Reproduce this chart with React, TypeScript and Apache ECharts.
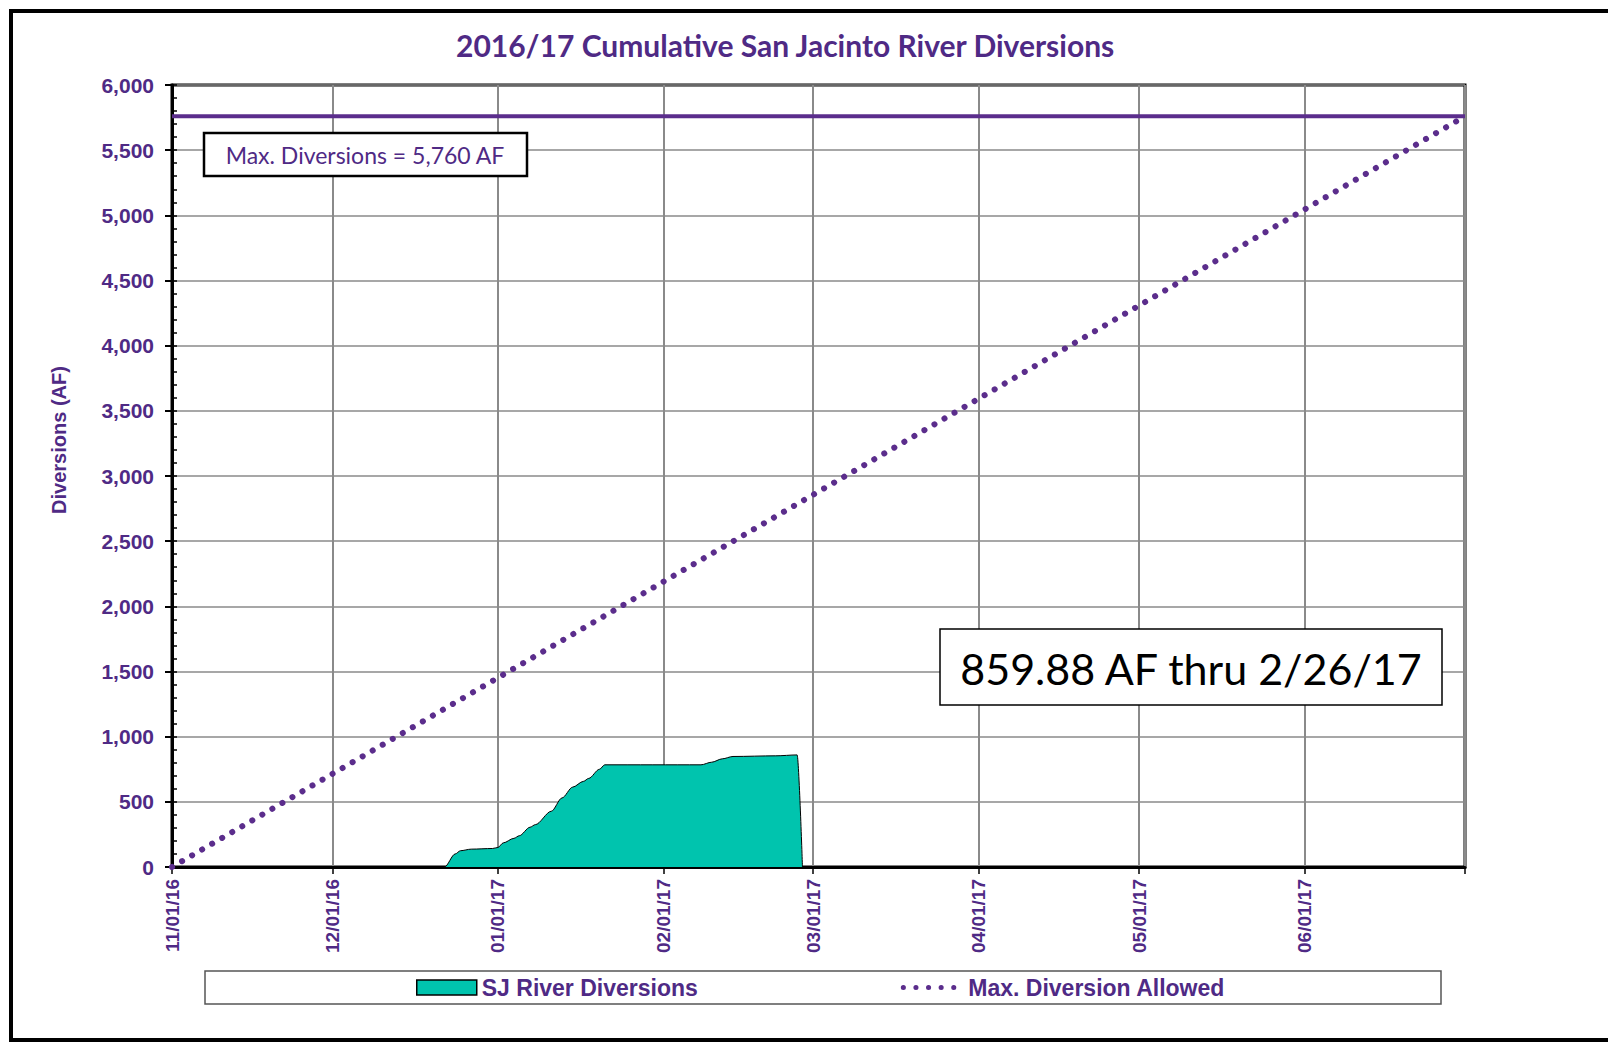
import React, { useEffect, useRef } from "react";
import * as echarts from "echarts";

// ---- Data ----
const TITLE = "2016/17 Cumulative San Jacinto River Diversions";
const Y_NAME = "Diversions (AF)";
const X_MIN = "2016-11-01";
const X_MAX = "2017-07-01";
const Y_MIN = 0;
const Y_MAX = 6000;
const Y_INTERVAL = 500;
const Y_MINOR_INTERVAL = 100;
const MAX_DIVERSION = 5760;

const DIV_DATES = [
  "2016-12-21", "2016-12-22", "2016-12-24", "2016-12-25", "2016-12-27", "2016-12-31",
  "2017-01-01", "2017-01-02", "2017-01-04", "2017-01-05", "2017-01-07", "2017-01-08",
  "2017-01-11", "2017-01-13", "2017-01-15", "2017-01-17", "2017-01-18", "2017-01-20",
  "2017-01-21", "2017-02-08", "2017-02-10", "2017-02-12", "2017-02-14", "2017-02-22",
  "2017-02-26", "2017-02-27",
];
const DIV_VALUES = [
  0, 0, 100, 125, 137, 142,
  150, 185, 220, 240, 305, 325,
  428, 530, 613, 657, 680, 750,
  784, 784, 804, 830, 848, 853,
  859.88, 0,
];

const ALLOWED_DATES = ["2016-11-01", "2017-07-01"];
const ALLOWED_VALUES = [0, 5760];

const MAXLINE_DATES = ["2016-11-01", "2017-07-01"];
const MAXLINE_VALUES = [MAX_DIVERSION, MAX_DIVERSION];

const SERIES_NAMES = ["SJ River Diversions", "Max. Diversion Allowed"];
const MAX_LABEL = "Max. Diversions = 5,760 AF";
const TOTAL_LABEL = "859.88 AF thru 2/26/17";

// ---- Styles ----
const PURPLE = "#4F2A85";
const PURPLE_LINE = "#5B2D8C";
const TEAL = "#00C4AE";
const BOLD_FONT = "Liberation Sans";
const TEXT_FONT = "Lato";

function parseLocal(s: string) {
  const [y, m, d] = s.split("-").map(Number);
  return new Date(y, m - 1, d).getTime();
}

function fmtDate(v: number) {
  const d = new Date(v);
  const mm = String(d.getMonth() + 1).padStart(2, "0");
  const dd = String(d.getDate()).padStart(2, "0");
  const yy = String(d.getFullYear() % 100).padStart(2, "0");
  return `${mm}/${dd}/${yy}`;
}

export default function App() {
  const ref = useRef<HTMLDivElement>(null);

  useEffect(() => {
    if (!ref.current) return;
    const chart = echarts.init(ref.current, null, { renderer: "svg" });
    const DAY = 24 * 3600 * 1000;
    const maxTs = parseLocal(X_MAX);
    const dotted = { color: PURPLE_LINE, width: 6, type: [0.1, 11.5], cap: "round" };

    const option: any = {
      animation: false,
      backgroundColor: "#ffffff",
      title: {
        text: TITLE,
        left: 456,
        top: 30,
        padding: 0,
        textStyle: {
          fontFamily: TEXT_FONT,
          fontWeight: "bold",
          fontSize: 30,
          color: PURPLE,
        },
      },
      grid: {
        left: 172,
        right: 143,
        top: 85,
        bottom: 175,
        show: true,
        borderColor: "#000",
        borderWidth: 3,
        backgroundColor: "transparent",
        containLabel: false,
        outerBoundsMode: "none",
      },
      legend: {
        left: 416,
        top: 976,
        itemWidth: 60,
        itemHeight: 15,
        itemGap: 203,
        padding: 0,
        textStyle: {
          fontFamily: BOLD_FONT,
          fontWeight: "bold",
          fontSize: 23,
          color: PURPLE,
        },
        data: [
          {
            name: SERIES_NAMES[0],
            icon: "rect",
            itemStyle: { color: TEAL, borderColor: "#000", borderWidth: 1.5 },
          },
          {
            name: SERIES_NAMES[1],
            itemStyle: { opacity: 0 },
            lineStyle: { color: PURPLE_LINE, width: 5, type: [0.1, 12.5], cap: "round" },
          },
        ],
      },
      xAxis: {
        type: "time",
        min: X_MIN,
        max: X_MAX,
        splitNumber: 8,
        minInterval: 28 * DAY,
        maxInterval: 31 * DAY,
        axisLine: { show: true, lineStyle: { color: "#000", width: 3 } },
        axisTick: { show: true, length: 7, lineStyle: { color: "#000", width: 1.5 } },
        splitLine: { show: true, lineStyle: { color: "#8a8a8a", width: 2 } },
        axisLabel: {
          rotate: 90,
          margin: 12,
          showMinLabel: true,
          showMaxLabel: false,
          hideOverlap: false,
          formatter: (v: number) => (v >= maxTs ? "" : fmtDate(v)),
          fontFamily: BOLD_FONT,
          fontWeight: "bold",
          fontSize: 19,
          color: PURPLE,
        },
      },
      yAxis: [
        {
          type: "value",
          min: Y_MIN,
          max: Y_MAX,
          interval: Y_INTERVAL,
          position: "left",
          axisLine: { show: true, lineStyle: { color: "#000", width: 3 } },
          axisTick: { show: true, length: 7, lineStyle: { color: "#000", width: 2 } },
          splitLine: { show: true, lineStyle: { color: "#8a8a8a", width: 1.5 } },
          axisLabel: {
            margin: 18,
            formatter: (v: number) => v.toLocaleString("en-US"),
            fontFamily: BOLD_FONT,
            fontWeight: "bold",
            fontSize: 21,
            color: PURPLE,
          },
        },
        {
          type: "value",
          min: Y_MIN,
          max: Y_MAX,
          interval: Y_MINOR_INTERVAL,
          position: "left",
          offset: 0,
          axisLine: { show: false },
          axisTick: { show: true, inside: true, length: 5, lineStyle: { color: "#000", width: 1.5 } },
          splitLine: { show: false },
          axisLabel: { show: false },
        },
      ],
      series: [
        {
          name: SERIES_NAMES[0],
          type: "line",
          data: DIV_DATES.map((d, i) => [d, DIV_VALUES[i]]),
          symbol: "none",
          smooth: 0.3,
          smoothMonotone: "x",
          color: TEAL,
          lineStyle: { color: "#000", width: 1 },
          areaStyle: { color: TEAL, opacity: 1 },
          z: 3,
        },
        {
          name: SERIES_NAMES[1],
          type: "line",
          data: ALLOWED_DATES.map((d, i) => [d, ALLOWED_VALUES[i]]),
          symbol: "none",
          color: PURPLE_LINE,
          lineStyle: dotted,
          z: 4,
        },
        {
          name: "Max. Diversions",
          type: "line",
          data: MAXLINE_DATES.map((d, i) => [d, MAXLINE_VALUES[i]]),
          symbol: "none",
          color: PURPLE_LINE,
          lineStyle: { color: PURPLE_LINE, width: 4 },
          z: 4,
        },
      ],
      graphic: [
        {
          type: "rect",
          shape: { x: 11, y: 11, width: 1640, height: 1029 },
          style: { fill: "none", stroke: "#000", lineWidth: 4 },
          z: 0,
          silent: true,
        },
        {
          type: "rect",
          shape: { x: 205, y: 971, width: 1236, height: 33 },
          style: { fill: "#fff", stroke: "#555", lineWidth: 1.5 },
          z: 1,
          silent: true,
        },
        {
          type: "rect",
          shape: { x: 204, y: 133, width: 323, height: 43 },
          style: { fill: "#fff", stroke: "#000", lineWidth: 2.5 },
          z: 50,
        },
        {
          type: "text",
          x: 365,
          y: 155,
          z: 51,
          style: {
            text: MAX_LABEL,
            fill: PURPLE,
            fontFamily: TEXT_FONT,
            fontSize: 23,
            textAlign: "center",
            textVerticalAlign: "middle",
          },
        },
        {
          type: "rect",
          shape: { x: 940, y: 629, width: 502, height: 76 },
          style: { fill: "#fff", stroke: "#000", lineWidth: 1.5 },
          z: 50,
        },
        {
          type: "text",
          x: 1191,
          y: 668,
          z: 51,
          style: {
            text: TOTAL_LABEL,
            fill: "#000",
            fontFamily: TEXT_FONT,
            fontSize: 43,
            textAlign: "center",
            textVerticalAlign: "middle",
          },
        },
        {
          type: "text",
          x: 59,
          y: 440,
          rotation: Math.PI / 2,
          z: 51,
          style: {
            text: Y_NAME,
            fill: PURPLE,
            fontFamily: BOLD_FONT,
            fontWeight: "bold",
            fontSize: 20,
            textAlign: "center",
            textVerticalAlign: "middle",
          },
        },
      ],
    };

    chart.setOption(option);
    return () => chart.dispose();
  }, []);

  return (
    <div
      ref={ref}
      style={{ position: "absolute", left: 0, top: 0, width: 1608, height: 1042 }}
    />
  );
}
